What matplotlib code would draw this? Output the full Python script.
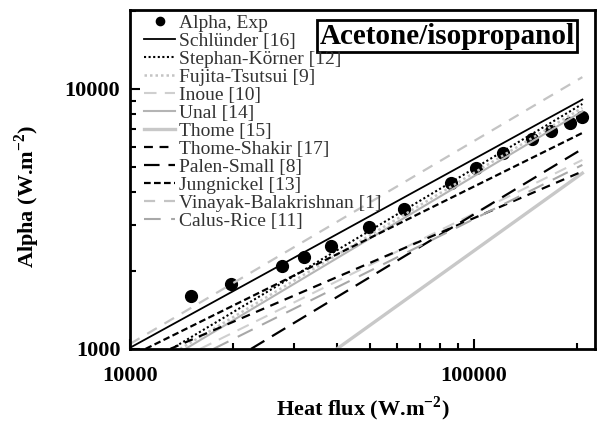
import numpy as np
import matplotlib
matplotlib.use("Agg")
import matplotlib.pyplot as plt

plt.rcParams['font.family'] = ['Liberation Serif', 'DejaVu Serif']
plt.rcParams['mathtext.fontset'] = 'custom'
plt.rcParams['mathtext.rm'] = 'Liberation Serif'
plt.rcParams['mathtext.bf'] = 'Liberation Serif:bold'

# experimental points
flux_exp = [15000, 19700, 27700, 32100, 38500, 49700, 62700, 85700,
            101600, 121700, 148000, 167400, 190000, 207000]
alpha_exp = [1600, 1780, 2085, 2265, 2495, 2945, 3465, 4365,
             4955, 5660, 6400, 6910, 7410, 7820]

# correlations, read as start / end points of each line
corr_names = ["Schlünder [16]", "Stephan-Körner [12]", "Fujita-Tsutsui [9]",
              "Inoue [10]", "Unal [14]", "Thome [15]", "Thome-Shakir [17]",
              "Palen-Small [8]", "Jungnickel [13]", "Vinayak-Balakrishnan [1]",
              "Calus-Rice [11]"]
corr_q0 = [10000, 13200, 14000, 16000, 14500, 40000, 13100, 22500, 11100, 10000, 17500]
corr_a0 = [1010, 1000, 1000, 1000, 1000, 1000, 1000, 1000, 1000, 1045, 1000]
corr_q1 = [207000] * 11
corr_a1 = [9100, 8750, 8450, 5330, 8200, 4740, 4815, 5880, 6770, 11100, 5100]

styles = [
    dict(color='black', lw=1.3, ls='-'),
    dict(color='black', lw=1.5, ls=(0, (1, 1.2))),
    dict(color='#c4c4c4', lw=1.8, ls=(0, (1, 1.2))),
    dict(color='#cfcfcf', lw=1.5, ls=(0, (6, 4))),
    dict(color='#b4b4b4', lw=1.5, ls='-'),
    dict(color='#c8c8c8', lw=2.4, ls='-'),
    dict(color='black', lw=1.6, ls=(0, (4, 3))),
    dict(color='black', lw=1.6, ls=(0, (7, 4))),
    dict(color='black', lw=1.6, ls=(0, (3, 1.5))),
    dict(color='#c4c4c4', lw=1.6, ls=(0, (5, 4))),
    dict(color='#a8a8a8', lw=1.5, ls=(0, (8, 5))),
]

fig = plt.figure(figsize=(5.99, 4.26), dpi=100)
ax = fig.add_axes([0.217, 0.181, 0.776, 0.796])

ax.plot(flux_exp, alpha_exp, 'o', color='black', ms=8.5, label='Alpha, Exp')
for i, name in enumerate(corr_names):
    ax.plot([corr_q0[i], corr_q1[i]], [corr_a0[i], corr_a1[i]], label=name, **styles[i])

ax.set_xscale('log')
ax.set_yscale('log')
ax.set_xlim(10000, 225000)
ax.set_ylim(1000, 20150)

ax.set_xticks([10000, 100000])
ax.set_xticklabels(['10000', '100000'])
ax.set_yticks([1000, 10000])
ax.set_yticklabels(['1000', '10000'])
ax.tick_params(which='both', direction='in', top=False, right=False, width=1.5)
ax.tick_params(which='major', length=7)
ax.tick_params(which='minor', length=4, labelleft=False, labelbottom=False)
ax.tick_params(axis='x', which='major', pad=12, labelsize=16)
ax.tick_params(axis='y', which='major', pad=7, labelsize=16)
for lab in ax.get_xticklabels() + ax.get_yticklabels():
    lab.set_fontweight('bold')
for s in ax.spines.values():
    s.set_linewidth(2)

ax.set_xlabel(r'Heat flux (W.m$^{\mathbf{-2}}$)', fontsize=16, fontweight='bold', labelpad=6)
ax.set_ylabel(r'Alpha (W.m$^{\mathbf{-2}}$)', fontsize=16, fontweight='bold')
ax.yaxis.set_label_coords(-0.19, 0.45)

leg = ax.legend(loc='upper left', bbox_to_anchor=(0.02, 1.0), frameon=False, fontsize=14,
                labelspacing=0.02, handlelength=1.6, handletextpad=0.2, borderaxespad=0.1,
                borderpad=0.15, markerscale=0.7)
for t in leg.get_texts():
    t.set_color('#333333')

ax.text(0.957, 0.962, 'Acetone/isopropanol', transform=ax.transAxes, ha='right', va='top',
        fontsize=21, fontweight='bold',
        bbox=dict(boxstyle='square,pad=0.08', fc='white', ec='black', lw=2))

fig.savefig('out.png', dpi=100)
